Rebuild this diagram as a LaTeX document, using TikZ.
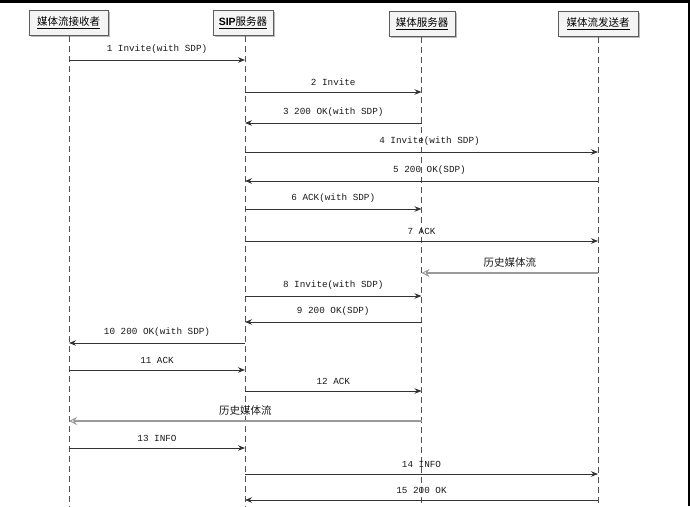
\documentclass[tikz,border=0pt]{standalone}
\usepackage{fontspec}
\setmainfont{Liberation Serif}
\setmonofont{Liberation Mono}
\newfontfamily\cjk{Noto Sans CJK SC}
\newfontfamily\sipfont{Liberation Sans}
\usetikzlibrary{arrows.meta,shadows}
\definecolor{lineC}{HTML}{333333}
\definecolor{histC}{HTML}{9A9A9A}
\definecolor{boxF}{HTML}{F4F4F4}
\tikzset{
  actor/.style={draw=lineC!80, fill=boxF, line width=0.8pt, minimum height=25pt,
    inner sep=2pt, font=\cjk\fontsize{10.5}{12}\selectfont,
    drop shadow={shadow xshift=1.5pt, shadow yshift=-1.5pt, fill=black!45, opacity=0.6}},
  lifeline/.style={draw=lineC!85, line width=0.8pt, dash pattern=on 6pt off 4pt},
  msgline/.style={draw=lineC, line width=0.8pt, -{Stealth[length=7pt,width=5.5pt]}},
  histline/.style={draw=histC, line width=2pt, -{Stealth[length=8pt,width=8pt,open,line width=1pt]}},
  msglabel/.style={font=\ttfamily\fontsize{9.3}{10}\selectfont, text=black!90, inner sep=1pt},
  histlabel/.style={font=\cjk\fontsize{10.5}{12}\selectfont, text=black!90, inner sep=1pt}
}
\newcommand{\msgarrow}[5][]{%
  \draw[msgline] (#2 |- 0,#4) -- node[msglabel, above=5pt, #1] {#5} (#3 |- 0,#4);}
\newcommand{\histarrow}[4]{%
  \draw[histline] (#1 |- 0,#3) -- node[histlabel, above=4pt] {#4} (#2 |- 0,#3);}
\begin{document}
\begin{tikzpicture}[x=1pt,y=-1pt]
\useasboundingbox (0,0) rectangle (690,506);
\fill[black] (0,0) rectangle (690,3);
\fill[black] (688,0) rectangle (690,506);
% actors
\node[actor, minimum width=79pt] (A) at (68.5,23) {\underline{媒体流接收者}};
\node[actor, minimum width=60pt] (B) at (243,23) {\underline{{\sipfont\bfseries SIP}服务器}};
\node[actor, minimum width=66pt] (C) at (422,24) {\underline{媒体服务器}};
\node[actor, minimum width=80pt] (D) at (598,24) {\underline{媒体流发送者}};
% lifelines
\coordinate (LA) at (69,0);
\coordinate (LB) at (245,0);
\coordinate (LC) at (421.5,0);
\coordinate (LD) at (598,0);
\coordinate (EA) at (69,506);
\coordinate (EB) at (245,506);
\coordinate (EC) at (421.5,506);
\coordinate (ED) at (598,506);
\draw[lifeline] (A.south -| LA) -- (EA);
\draw[lifeline] (B.south -| LB) -- (EB);
\draw[lifeline] (C.south -| LC) -- (EC);
\draw[lifeline] (D.south -| LD) -- (ED);
% messages
\msgarrow{LA}{LB}{60}{1 Invite(with SDP)}
\msgarrow{LB}{LC}{92}{2 Invite}
\msgarrow{LC}{LB}{123}{3 200 OK(with SDP)}
\msgarrow[xshift=8pt]{LB}{LD}{152}{4 Invite(with SDP)}
\msgarrow[xshift=8pt]{LD}{LB}{181}{5 200 OK(SDP)}
\msgarrow{LB}{LC}{209}{6 ACK(with SDP)}
\msgarrow{LB}{LD}{241}{7 ACK}
\histarrow{LD}{LC}{273}{历史媒体流}
\msgarrow{LB}{LC}{296}{8 Invite(with SDP)}
\msgarrow{LC}{LB}{322}{9 200 OK(SDP)}
\msgarrow{LB}{LA}{343}{10 200 OK(with SDP)}
\msgarrow{LA}{LB}{370}{11 ACK}
\msgarrow{LB}{LC}{391}{12 ACK}
\histarrow{LC}{LA}{421}{历史媒体流}
\msgarrow{LA}{LB}{448}{13 INFO}
\msgarrow{LB}{LD}{474}{14 INFO}
\msgarrow{LD}{LB}{500}{15 200 OK}
\end{tikzpicture}
\end{document}
